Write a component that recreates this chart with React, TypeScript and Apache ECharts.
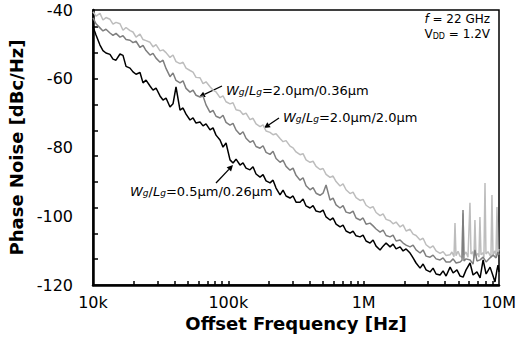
import React, { useEffect, useRef } from 'react';
import * as echarts from 'echarts';

// Shared frequency grid (Hz) for the main body of the three traces
const freqGrid = [
  1.0e4, 1.0525e4,
  1.126e4, 1.185e4, 1.247e4,
  1.335e4, 1.405e4, 1.479e4,
  1.583e4, 1.666e4, 1.754e4,
  1.877e4, 1.975e4, 2.079e4,
  2.225e4, 2.342e4, 2.465e4,
  2.638e4, 2.776e4, 2.922e4,
  3.127e4, 3.291e4, 3.464e4,
  3.707e4, 3.901e4, 4.106e4,
  4.395e4, 4.625e4, 4.868e4,
  5.21e4, 5.484e4, 5.771e4,
  6.177e4, 6.501e4, 6.842e4,
  7.322e4, 7.706e4, 8.111e4,
  8.68e4, 9.136e4, 9.615e4,
  1.029e5, 1.083e5, 1.14e5,
  1.22e5, 1.284e5, 1.351e5,
  1.446e5, 1.522e5, 1.602e5,
  1.715e5, 1.805e5, 1.9e5,
  2.033e5, 2.14e5, 2.252e5,
  2.41e5, 2.537e5, 2.67e5,
  2.857e5, 3.007e5, 3.165e5,
  3.387e5, 3.565e5, 3.752e5,
  4.016e5, 4.227e5, 4.449e5,
  4.761e5, 5.011e5, 5.274e5,
  5.644e5, 5.94e5, 6.252e5,
  6.691e5, 7.042e5, 7.412e5,
  7.932e5, 8.348e5, 8.786e5,
  9.403e5, 9.897e5, 1.0416e6,
  1.115e6, 1.1735e6, 1.2351e6,
  1.322e6, 1.3914e6, 1.4644e6,
  1.567e6, 1.649e6, 1.736e6,
  1.858e6, 1.956e6, 2.058e6,
  2.202e6, 2.318e6, 2.439e6,
  2.611e6, 2.748e6, 2.892e6,
  3.095e6, 3.257e6, 3.428e6,
  3.669e6, 3.862e6, 4.064e6,
];

// Wg/Lg = 2.0um/2.0um (light gray)
const pnWide2p0 = [
  -40.5, -41.8,
  -41.0, -42.9, -42.2,
  -42.7, -44.1, -43.6,
  -44.0, -45.9, -45.1,
  -46.0, -46.4, -47.9,
  -47.0, -48.6, -48.9,
  -49.4, -50.7, -50.1,
  -51.9, -51.6, -52.4,
  -53.8, -53.1, -55.0,
  -55.6, -55.2, -56.9,
  -57.6, -58.1, -59.6,
  -59.7, -61.4, -60.9,
  -62.3, -63.3, -63.8,
  -65.5, -65.0, -66.7,
  -67.3, -67.0, -69.0,
  -69.3, -70.4, -70.0,
  -71.9, -71.5, -73.1,
  -73.9, -73.4, -75.2,
  -75.6, -76.3, -76.0,
  -77.4, -78.3, -78.0,
  -79.6, -80.1, -81.3,
  -82.1, -81.8, -83.6,
  -84.3, -84.0, -85.5,
  -86.4, -86.1, -87.8,
  -88.7, -88.3, -89.9,
  -91.2, -90.6, -92.3,
  -93.4, -93.0, -94.6,
  -95.4, -95.1, -96.8,
  -97.6, -97.2, -98.9,
  -99.8, -99.3, -100.9,
  -101.3, -102.2, -101.7,
  -103.1, -102.5, -104.3,
  -103.8, -105.2, -105.6,
  -106.9, -106.4, -108.3,
  -109.2, -108.6, -110.1,
  -110.8, -110.3, -111.4,
];
const tailWide2p0: [number, number][] = [
  [4.35e6, -111.2], [4.49e6, -110.4], [4.65e6, -111.8], [4.73e6, -102.0], [4.81e6, -111.5],
  [4.98e6, -110.2], [5.15e6, -111.6], [5.33e6, -112.0], [5.42e6, -99.1], [5.51e6, -111.3],
  [5.70e6, -110.4], [5.90e6, -111.9], [6.10e6, -96.1], [6.21e6, -111.0], [6.42e6, -110.3],
  [6.53e6, -112.2], [6.64e6, -101.1], [6.76e6, -111.5], [6.99e6, -110.8], [7.11e6, -111.9],
  [7.23e6, -100.2], [7.36e6, -111.2], [7.61e6, -110.6], [7.74e6, -111.9], [7.88e6, -90.3],
  [8.01e6, -111.0], [8.29e6, -110.3], [8.72e6, -111.8], [8.87e6, -93.8], [9.03e6, -111.2],
  [9.34e6, -110.1], [9.50e6, -111.6], [9.66e6, -97.3], [9.83e6, -110.8], [1.0e7, -109.5],
];

// Wg/Lg = 2.0um/0.36um (dark gray)
const pnWide036 = [
  -42.3, -44.0,
  -45.2, -46.1, -45.6,
  -46.7, -47.4, -46.8,
  -47.9, -47.5, -48.6,
  -48.8, -49.5, -49.1,
  -50.9, -50.3, -51.8,
  -53.1, -52.6, -54.0,
  -55.2, -54.6, -57.0,
  -59.4, -58.3, -60.5,
  -61.2, -60.6, -62.8,
  -63.9, -63.3, -64.8,
  -65.3, -65.0, -67.6,
  -69.8, -69.2, -70.9,
  -71.4, -70.6, -72.7,
  -73.5, -73.0, -74.9,
  -76.2, -75.4, -77.3,
  -78.5, -78.0, -79.7,
  -80.2, -79.5, -81.4,
  -82.0, -81.1, -83.2,
  -84.3, -83.7, -85.5,
  -86.6, -86.0, -88.1,
  -89.5, -88.8, -91.1,
  -92.3, -91.7, -93.3,
  -93.9, -93.3, -90.9,
  -95.3, -94.7, -96.7,
  -97.6, -96.9, -98.8,
  -99.1, -98.5, -100.5,
  -101.1, -100.5, -102.3,
  -102.0, -102.8, -103.7,
  -104.6, -104.0, -105.6,
  -106.0, -105.5, -107.2,
  -106.9, -107.8, -108.4,
  -108.9, -108.4, -109.8,
  -110.7, -109.8, -111.6,
  -111.9, -111.3, -112.4,
  -112.7, -112.1, -113.3,
];
const tailWide036: [number, number][] = [
  [4.35e6, -113.3], [4.58e6, -112.4], [4.82e6, -113.6], [5.16e6, -113.3], [5.33e6, -112.8],
  [5.42e6, -98.2], [5.51e6, -113.0], [5.71e6, -112.4], [6.11e6, -112.7], [6.43e6, -113.9],
  [6.64e6, -109.8], [6.87e6, -113.0], [7.25e6, -112.7], [7.63e6, -111.9], [8.03e6, -113.3],
  [8.59e6, -112.1], [9.04e6, -111.3], [9.52e6, -112.1], [9.83e6, -110.4], [1.0e7, -111.3],
];

// Wg/Lg = 0.5um/0.26um (black)
const pnNarrow026 = [
  -44.9, -47.3,
  -50.2, -51.8, -52.5,
  -52.9, -54.3, -54.6,
  -52.8, -53.2, -56.4,
  -56.9, -58.0, -58.7,
  -58.2, -61.2, -60.4,
  -62.1, -63.3, -62.7,
  -65.0, -66.2, -65.6,
  -68.2, -67.3, -62.4,
  -69.1, -68.5, -70.3,
  -72.0, -71.4, -72.9,
  -72.6, -73.7, -73.1,
  -74.9, -74.3, -76.4,
  -77.8, -79.9, -78.7,
  -83.6, -84.5, -83.4,
  -85.1, -84.5, -86.0,
  -86.5, -85.6, -87.7,
  -88.6, -87.9, -89.7,
  -90.3, -89.5, -91.8,
  -93.8, -92.4, -94.1,
  -94.7, -94.1, -95.9,
  -95.9, -95.0, -97.0,
  -97.6, -96.9, -98.5,
  -98.8, -98.2, -100.2,
  -101.1, -100.5, -102.3,
  -103.1, -102.6, -104.3,
  -104.9, -104.3, -105.7,
  -106.0, -105.5, -107.2,
  -107.8, -106.9, -108.7,
  -109.8, -108.7, -107.8,
  -108.9, -108.1, -109.5,
  -108.9, -110.1, -109.5,
  -110.7, -112.1, -113.6,
  -115.1, -113.9, -115.6,
  -116.2, -115.1, -116.8,
  -117.1, -115.9, -117.4,
];
const tailNarrow026: [number, number][] = [
  [4.35e6, -114.8], [4.58e6, -116.5], [4.89e6, -115.6], [5.16e6, -117.4], [5.43e6, -117.7],
  [5.71e6, -115.6], [6.11e6, -113.6], [6.43e6, -117.1], [6.87e6, -116.2], [7.25e6, -117.9],
  [7.63e6, -112.7], [8.03e6, -116.8], [8.59e6, -114.8], [9.04e6, -117.4], [9.34e6, -119.1],
  [9.66e6, -115.6], [9.83e6, -114.2], [1.0e7, -116.2],
];

const xTickLabels = ['10k', '100k', '1M', '10M'];
const xTickFreqs = [
  2e4, 3e4, 4e4, 5e4, 6e4, 7e4, 8e4, 9e4, 1e5,
  2e5, 3e5, 4e5, 5e5, 6e5, 7e5, 8e5, 9e5, 1e6,
  2e6, 3e6, 4e6, 5e6, 6e6, 7e6, 8e6, 9e6,
];
const yTickValues = [-112.5, -105, -97.5, -90, -82.5, -75, -67.5, -60, -52.5, -45];

const FONT = 'DejaVu Sans';

function zip(freqs: number[], vals: number[], tail: [number, number][]) {
  const n = Math.min(freqs.length, vals.length);
  const out: [number, number][] = [];
  for (let i = 0; i < n; i++) out.push([freqs[i], vals[i]]);
  return out.concat(tail);
}

function arrow(x1: number, y1: number, x2: number, y2: number) {
  const dx = x2 - x1, dy = y2 - y1;
  const len = Math.hypot(dx, dy);
  const ux = dx / len, uy = dy / len;
  const hl = 6, hw = 3;
  const bx = x2 - ux * hl, by = y2 - uy * hl;
  return [
    { type: 'line', shape: { x1, y1, x2: bx, y2: by }, style: { stroke: '#000', lineWidth: 1.3 }, silent: true },
    {
      type: 'polygon',
      shape: { points: [[x2, y2], [bx - uy * hw, by + ux * hw], [bx + uy * hw, by - ux * hw]] },
      style: { fill: '#000' },
      silent: true,
    },
  ];
}

function makeRich(size: number) {
  return {
    i: { fontFamily: FONT, fontSize: size, fontStyle: 'italic', lineHeight: size + 2, verticalAlign: 'bottom', fill: '#000', color: '#000' },
    s: { fontFamily: FONT, fontSize: Math.round(size * 0.7), fontStyle: 'italic', lineHeight: 7, verticalAlign: 'bottom', fill: '#000', color: '#000' },
    d: { fontFamily: FONT, fontSize: Math.round(size * 0.7), lineHeight: 7, verticalAlign: 'bottom', fill: '#000', color: '#000' },
    n: { fontFamily: FONT, fontSize: size, lineHeight: size + 2, verticalAlign: 'bottom', fill: '#000', color: '#000' },
  };
}

function label(x: number, y: number, text: string, size: number, align = 'left') {
  return {
    type: 'text',
    x,
    y,
    silent: true,
    style: { text, rich: makeRich(size), align, verticalAlign: 'middle', fill: '#000', font: `${size}px ${FONT}` },
  };
}

export default function App() {
  const ref = useRef<HTMLDivElement>(null);
  useEffect(() => {
    if (!ref.current) return;
    const chart = echarts.init(ref.current, undefined, { renderer: 'svg' });
    const nameStyle = { fontFamily: FONT, fontSize: 18, fontWeight: 'bold', color: '#000' };
    const option: any = {
      animation: false,
      backgroundColor: '#fff',
      grid: {
        left: 93, right: 18, top: 10, bottom: 56,
        show: true, borderColor: '#000', borderWidth: 1.5,
        containLabel: false, outerBoundsMode: 'none',
      },
      xAxis: [
        {
          type: 'log', logBase: 10, min: 1e4, max: 1e7,
          axisLine: { show: true, onZero: false, lineStyle: { color: '#000', width: 2.5 } },
          axisTick: { show: false },
          minorTick: { show: false },
          splitLine: { show: false },
          axisLabel: {
            color: '#000', fontFamily: FONT, fontSize: 16, margin: 9,
            formatter: (v: number) => xTickLabels[Math.round(Math.log10(v)) - 4] ?? '',
          },
          name: 'Offset Frequency [Hz]', nameLocation: 'middle', nameGap: 29,
          nameTextStyle: nameStyle,
        },
        {
          type: 'value', min: 4, max: 7, position: 'bottom',
          axisLine: { show: false },
          axisLabel: { show: false },
          splitLine: { show: false },
          axisTick: {
            show: true, inside: true, length: 4,
            lineStyle: { color: '#000', width: 1.5 },
            customValues: xTickFreqs.map((f) => Math.log10(f)),
          },
        },
      ],
      yAxis: {
        type: 'value', min: -120, max: -40, interval: 20,
        axisLine: { show: true, onZero: false, lineStyle: { color: '#000', width: 2.5 } },
        axisTick: { show: true, inside: true, length: 5, lineStyle: { color: '#000', width: 1.5 }, customValues: yTickValues },
        splitLine: { show: false },
        axisLabel: { color: '#000', fontFamily: FONT, fontSize: 16, margin: 20 },
        name: 'Phase Noise [dBc/Hz]', nameLocation: 'middle', nameGap: 60,
        nameTextStyle: nameStyle,
      },
      series: [
        {
          name: '2.0/2.0', type: 'line', xAxisIndex: 0, symbol: 'none', silent: true,
          data: zip(freqGrid, pnWide2p0, tailWide2p0),
          lineStyle: { color: '#bdbdbd', width: 1.5 }, itemStyle: { color: '#bdbdbd' },
        },
        {
          name: '2.0/0.36', type: 'line', xAxisIndex: 0, symbol: 'none', silent: true,
          data: zip(freqGrid, pnWide036, tailWide036),
          lineStyle: { color: '#7f7f7f', width: 1.5 }, itemStyle: { color: '#7f7f7f' },
        },
        {
          name: '0.5/0.26', type: 'line', xAxisIndex: 0, symbol: 'none', silent: true,
          data: zip(freqGrid, pnNarrow026, tailNarrow026),
          lineStyle: { color: '#000', width: 1.5 }, itemStyle: { color: '#000' },
        },
      ],
      graphic: [
        label(490, 18, '{i|f}{n| = 22 GHz}', 12, 'right'),
        label(490, 33, '{n|V}{d|DD}{n| = 1.2V}', 12, 'right'),
        label(226, 89, '{i|W}{s|g}{n|/}{i|L}{s|g}{n|=2.0µm/0.36µm}', 13),
        label(283, 116, '{i|W}{s|g}{n|/}{i|L}{s|g}{n|=2.0µm/2.0µm}', 13),
        label(130, 190, '{i|W}{s|g}{n|/}{i|L}{s|g}{n|=0.5µm/0.26µm}', 13),
        ...arrow(222, 86, 199, 97),
        ...arrow(279, 118, 264, 128),
        ...arrow(216, 183, 233, 165),
      ],
    };
    chart.setOption(option);
    return () => chart.dispose();
  }, []);
  return <div ref={ref} style={{ position: 'fixed', left: 0, top: 0, width: 517, height: 341 }} />;
}
